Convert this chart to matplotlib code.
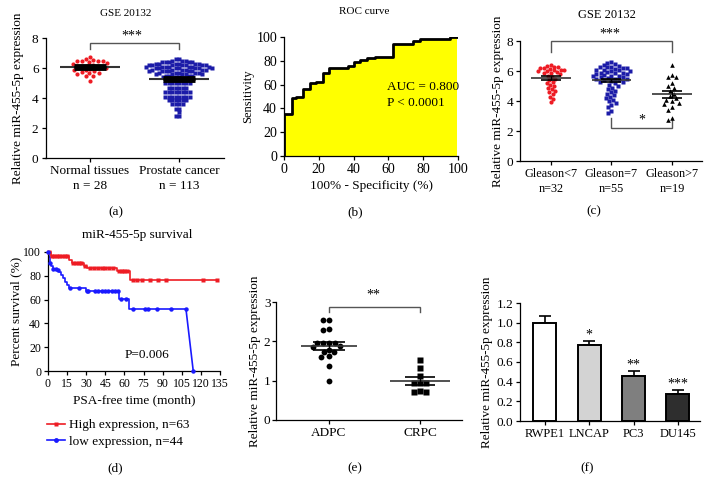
import numpy as np
import matplotlib
matplotlib.use('Agg')
import matplotlib.pyplot as plt
from matplotlib.lines import Line2D

# ---------------- DATA ----------------
# (a) GSE 20132 normal vs prostate cancer
normal_vals = [6.75, 6.6, 6.55, 6.5, 6.5, 6.5, 6.45, 6.4, 6.35, 6.3, 6.2, 6.15, 6.1, 6.1,
               6.05, 6.0, 6.0, 5.95, 5.9, 5.85, 5.8, 5.75, 5.7, 5.65, 5.6, 5.5, 5.45, 5.15]
cancer_vals = ([6.6]*2 + [6.5]*3 + [6.4]*5 + [6.3]*6 + [6.2]*7 + [6.1]*7 + [6.0]*7 +
               [5.9]*6 + [5.8]*6 + [5.7]*5 + [5.6]*5 + [5.5]*4 + [5.4]*3 + [5.3]*2 +
               [5.0]*8 + [4.7]*6 + [4.4]*8 + [4.1]*8 + [3.85]*6 + [3.6]*4 + [3.3]*2 +
               [3.05] + [2.8]*2)
a_labels = ['Normal tissues\nn = 28', 'Prostate cancer\nn = 113']

# (b) ROC curve (step vertices)
roc_fpr = [0, 0, 4.4, 7, 10.7, 14.9, 18.4, 22.2, 26, 37, 40.2, 43.7, 47.9, 52.3, 62.8, 74, 78.2, 95.4, 99.5]
roc_tpr = [0, 35.5, 48.5, 49.5, 56, 61, 62.5, 70, 74, 76, 79, 80.5, 82, 83.5, 94, 97, 98.6, 100, 100]

# (c) Gleason groups
gl_lt7 = [6.4, 6.35, 6.3, 6.3, 6.2, 6.2, 6.15, 6.1, 6.1, 6.05, 6.0, 6.0, 5.95, 5.9, 5.85, 5.8,
          5.7, 5.6, 5.5, 5.4, 5.3, 5.2, 5.1, 5.0, 4.9, 4.8, 4.7, 4.6, 4.5, 4.3, 4.15, 3.95]
gl_eq7 = [6.6, 6.55, 6.45, 6.4, 6.35, 6.3, 6.3, 6.25, 6.2, 6.2, 6.15, 6.1, 6.1, 6.05, 6.0, 6.0,
          5.95, 5.9, 5.9, 5.85, 5.8, 5.8, 5.75, 5.7, 5.7, 5.65, 5.6, 5.6, 5.55, 5.5, 5.5, 5.45,
          5.4, 5.4, 5.35, 5.3, 5.3, 5.2, 5.1, 5.0, 4.9, 4.8, 4.7, 4.6, 4.5, 4.4, 4.3, 4.2, 4.1,
          4.0, 3.9, 3.75, 3.6, 3.35, 3.2]
gl_gt7 = [6.4, 5.75, 5.6, 5.6, 5.2, 5.0, 4.9, 4.7, 4.5, 4.35, 4.2, 4.1, 4.0, 3.9, 3.8, 3.6,
          3.4, 2.9, 2.75]
c_labels = ['Gleason<7\nn=32', 'Gleason=7\nn=55', 'Gleason>7\nn=19']

# (d) survival curves
high_t = [0, 2, 16.5, 18.5, 28, 31, 54, 64, 133]
high_s = [100, 96.3, 93.5, 90.8, 88, 86.3, 83.8, 76.3, 76.3]
high_cens_t = [1, 3, 5, 7, 9, 11, 13, 15, 20, 22, 24, 26, 29, 33, 36, 39, 42, 45, 48, 51,
               56, 58, 60, 62, 67, 69.6, 73.5, 80, 86.6, 92.6, 121.4, 132.4]
low_t = [0, 0.5, 1.5, 2.5, 4, 7, 9, 10.5, 12, 13.5, 15, 16.5, 29.5, 56, 63.5, 108.3]
low_s = [100, 96, 91, 88, 86, 84.5, 83, 80.5, 78, 75, 72.5, 70, 67.5, 60.5, 52, 52]
low_end = (114, 0)
low_cens_t = [0.3, 1.6, 4.2, 6.3, 8.1, 17.3, 24.6, 30.3, 31.6, 36.9, 39.5, 42.1, 44.7,
              47.4, 50, 52.6, 55.2, 57, 61.2, 67, 76.2, 78.8, 85.3, 96.3, 108.3]

# (e) ADPC vs CRPC
adpc_vals = [2.53, 2.53, 2.32, 2.28, 1.97, 1.95, 1.95, 1.95, 1.88, 1.85, 1.78, 1.73, 1.72,
             1.62, 1.60, 1.37, 1.0]
crpc_vals = [1.53, 1.33, 1.13, 0.95, 0.93, 0.95, 0.73, 0.70, 0.71]
e_labels = ['ADPC', 'CRPC']

# (f) cell lines
cell_lines = ['RWPE1', 'LNCAP', 'PC3', 'DU145']
cell_vals = [1.0, 0.77, 0.46, 0.275]
cell_err = [0.065, 0.04, 0.045, 0.04]
cell_stars = ['', '*', '**', '***']

# ---------------- STYLE ----------------
W, H = 710, 493
plt.rcParams['font.family'] = ['Liberation Serif', 'DejaVu Serif']
plt.rcParams['font.size'] = 9.5
plt.rcParams['axes.linewidth'] = 0.9
fig = plt.figure(figsize=(W / 100, H / 100), dpi=100)

RED = '#ee1c24'
BLUE_A = '#1c1ca8'
BLUE_D = '#1a1aff'
GRAY = '#555555'


def add_ax(l, t, r, b):
    ax = fig.add_axes([l / W, 1 - b / H, (r - l) / W, (b - t) / H])
    ax.spines[['top', 'right']].set_visible(False)
    ax.tick_params(direction='out', length=3, width=0.9, labelsize=9.5, pad=2)
    ax.patch.set_alpha(0)
    return ax


def px_frac(ax, xpx, ypx):
    bb = ax.get_position()
    return ((xpx / W - bb.x0) / bb.width, ((1 - ypx / H) - bb.y0) / bb.height)


def set_ylabel_px(ax, text, xpx, size=9.5):
    # xpx is the visual centre of the rotated label
    ax.set_ylabel(text, fontsize=size)
    fx, _ = px_frac(ax, xpx + 7, 0)
    ax.yaxis.set_label_coords(fx, 0.5)


def ftext(xpx, ypx, s, size=9.5, **kw):
    fig.text(xpx / W, 1 - ypx / H, s, fontsize=size, ha='center', va='center', **kw)


def swarm(ax, values, center, d_px):
    trans = ax.transData
    vals = np.asarray(values, float)
    pts = trans.transform(np.column_stack([np.full(len(vals), center), vals]))
    cx = pts[0, 0]
    ys = pts[:, 1]
    order = np.argsort(-vals, kind='stable')
    placed = []
    xs = np.zeros(len(vals))
    for i in order:
        y = ys[i]
        cands = [0.0]
        forb = []
        for (px, py) in placed:
            dy = abs(py - y)
            if dy < d_px:
                dx = np.sqrt(d_px ** 2 - dy ** 2)
                forb.append((px - dx, px + dx))
                cands += [px - dx, px + dx]
        cands.sort(key=abs)
        for c in cands:
            if all(not (a + 1e-6 < c < b - 1e-6) for a, b in forb):
                xs[i] = c
                break
        placed.append((xs[i], y))
    out = trans.inverted().transform(np.column_stack([cx + xs, ys]))
    return out[:, 0], vals


def mean_sem(ax, vals, x, half_line, cap_px, capthick=1.2, lw=1.2, lcolor='#333333'):
    m = np.mean(vals)
    s = np.std(vals, ddof=1) / np.sqrt(len(vals))
    ax.hlines(m, x - half_line, x + half_line, color=lcolor, lw=lw, zorder=4)
    ax.errorbar(x, m, yerr=s, fmt='none', ecolor='black', elinewidth=1.0,
                capsize=cap_px * 0.72, capthick=capthick, zorder=5)


def bracket(ax, x0, x1, y, y0, y1=None, color=GRAY):
    if y1 is None:
        y1 = y0
    ax.plot([x0, x0, x1, x1], [y0, y, y, y1], color=color, lw=1.0, clip_on=False,
            solid_joinstyle='miter')


# ---------------- (a) ----------------
axa = add_ax(45.5, 38, 223.5, 158)
axa.set_xlim(-0.5, 1.5)
axa.set_ylim(0, 8)
axa.set_yticks([0, 2, 4, 6, 8])
axa.set_xticks([0, 1])
axa.set_xticklabels(a_labels, linespacing=1.35)
xs, v = swarm(axa, normal_vals, 0, 4.6)
axa.plot(xs, v, 'o', ms=3.0, color=RED, mec='none', zorder=3)
xs, v = swarm(axa, cancer_vals, 1, 3.5)
axa.plot(xs, v, 's', ms=3.3, color=BLUE_A, mec='none', zorder=3)
mean_sem(axa, normal_vals, 0, 0.34, 16, capthick=3.5, lw=1.5)
mean_sem(axa, cancer_vals, 1, 0.34, 16, capthick=3.5, lw=1.5)
bracket(axa, 0, 1, 7.65, 7.25)
axa.text(0.47, 8.15, '***', ha='center', va='center', fontsize=10)
set_ylabel_px(axa, 'Relative miR-455-5p expression', 17)
ftext(126, 13, 'GSE 20132', size=8)
ftext(116, 212, '(a)')

# ---------------- (b) ----------------
axb = add_ax(284, 37, 458, 156)
axb.set_xlim(0, 100)
axb.set_ylim(0, 100)
axb.fill_between(roc_fpr, roc_tpr, step='post', color='#ffff00', lw=0, zorder=1)
axb.step(roc_fpr, roc_tpr, where='post', color='black', lw=2.0, zorder=2)
axb.set_xticks(range(0, 101, 20))
axb.set_yticks(range(0, 101, 20))
axb.tick_params(labelsize=10)
axb.text(59, 58, 'AUC = 0.800', fontsize=9.5, ha='left', va='center')
axb.text(59, 44.5, 'P < 0.0001', fontsize=9.5, ha='left', va='center')
axb.set_xlabel('100% - Specificity (%)', fontsize=9.5, labelpad=3)
set_ylabel_px(axb, 'Sensitivity', 247, size=9)
ftext(364, 12, 'ROC curve', size=8)
ftext(355, 212, '(b)')

# ---------------- (c) ----------------
axc = add_ax(520, 41, 702, 161)
axc.set_xlim(-0.512, 2.496)
axc.set_ylim(0, 8)
axc.set_yticks([0, 2, 4, 6, 8])
axc.set_xticks([0, 1, 2])
axc.set_xticklabels(c_labels, linespacing=1.3, fontsize=8.8)
xs, v = swarm(axc, gl_lt7, 0, 3.8)
axc.plot(xs, v, 'o', ms=3.0, color=RED, mec='none', zorder=3)
xs, v = swarm(axc, gl_eq7, 1, 4.3)
axc.plot(xs, v, 's', ms=3.3, color=BLUE_A, mec='none', zorder=3)
xs, v = swarm(axc, gl_gt7, 2, 5.0)
axc.plot(xs, v, '^', ms=3.3, color='black', mec='none', zorder=3)
mean_sem(axc, gl_lt7, 0, 0.33, 10)
mean_sem(axc, gl_eq7, 1, 0.33, 10)
mean_sem(axc, gl_gt7, 2, 0.33, 10)
bracket(axc, 0, 2, 8.0, 7.3)
axc.text(0.98, 8.45, '***', ha='center', va='center', fontsize=10, clip_on=False)
bracket(axc, 1, 2, 2.18, 2.85, 2.85)
axc.text(1.5, 2.75, '*', ha='center', va='center', fontsize=10)
set_ylabel_px(axc, 'Relative miR-455-5p expression', 497)
ftext(607, 15, 'GSE 20132', size=9)
ftext(594, 211, '(c)')

# ---------------- (d) ----------------
axd = add_ax(48, 252, 220, 371)
axd.set_xlim(0, 135)
axd.set_ylim(0, 100)
axd.set_xticks(range(0, 136, 15))
axd.set_yticks(range(0, 101, 20))
axd.tick_params(labelsize=8.5)
axd.step(high_t, high_s, where='post', color=RED, lw=1.2, zorder=2, clip_on=False)
hc = [high_s[np.searchsorted(high_t, t, side='right') - 1] for t in high_cens_t]
axd.plot(high_cens_t, hc, 's', ms=3.2, color=RED, mec='none', zorder=3, clip_on=False)
axd.step(low_t, low_s, where='post', color=BLUE_D, lw=1.2, zorder=2, clip_on=False)
axd.plot([low_t[-1], low_end[0]], [low_s[-1], low_end[1]], color=BLUE_D, lw=1.2, clip_on=False)
lc = [low_s[np.searchsorted(low_t, t, side='right') - 1] for t in low_cens_t]
axd.plot(low_cens_t, lc, 'o', ms=3.2, color=BLUE_D, mec='none', zorder=3, clip_on=False)
axd.plot([low_end[0]], [low_end[1]], 'o', ms=3.2, color=BLUE_D, mec='none', zorder=3, clip_on=False)
axd.text(60.5, 13.4, 'P=0.006', fontsize=9.5, ha='left', va='center')
axd.set_xlabel('PSA-free time (month)', fontsize=9.5, labelpad=3)
set_ylabel_px(axd, 'Percent survival (%)', 15)
ftext(137, 235, 'miR-455-5p survival')
handles = [Line2D([], [], color=RED, marker='s', ms=3.5, lw=1.2, mec='none'),
           Line2D([], [], color=BLUE_D, marker='o', ms=3.5, lw=1.2, mec='none')]
fig.legend(handles, ['High expression, n=63', 'low expression, n=44'],
           loc='upper left', bbox_to_anchor=(47 / W, 1 - 419 / H), frameon=False,
           handlelength=1.4, handletextpad=0.3, labelspacing=0.35, fontsize=9.5,
           borderaxespad=0, borderpad=0)
ftext(115, 468, '(d)')

# ---------------- (e) ----------------
axe = add_ax(276, 302, 462, 420)
axe.set_xlim(-0.582, 1.462)
axe.set_ylim(0, 3)
axe.set_yticks([0, 1, 2, 3])
axe.set_xticks([0, 1])
axe.set_xticklabels(e_labels)
axe.tick_params(axis='y', pad=1)
xs, v = swarm(axe, adpc_vals, 0, 5.8)
axe.plot(xs, v, 'o', ms=4.2, color='black', mec='none', zorder=3)
xs, v = swarm(axe, crpc_vals, 1, 5.8)
axe.plot(xs, v, 's', ms=3.9, color='black', mec='none', zorder=3)
mean_sem(axe, adpc_vals, 0, 0.31, 16)
mean_sem(axe, crpc_vals, 1, 0.33, 15)
bracket(axe, 0, 1, 2.88, 2.75)
axe.text(0.49, 3.18, '**', ha='center', va='center', fontsize=10, clip_on=False)
set_ylabel_px(axe, 'Relative miR-455-5p expression', 254)
ftext(355, 468, '(e)')

# ---------------- (f) ----------------
axf = add_ax(520, 303, 700, 421)
axf.set_xlim(-0.564, 3.5)
axf.set_ylim(0, 1.2)
axf.set_yticks(np.arange(0, 1.21, 0.2))
axf.set_yticklabels([f'{t:.1f}' for t in np.arange(0, 1.21, 0.2)])
xpos = np.arange(len(cell_lines))
axf.bar(xpos, cell_vals, width=0.52, color=['white', '#d3d3d3', '#7f7f7f', '#2e2e2e'],
        edgecolor='black', lw=1.4, zorder=2)
axf.errorbar(xpos, cell_vals, yerr=[np.zeros(len(cell_err)), cell_err], fmt='none',
             ecolor='black', elinewidth=1.2, capsize=4, capthick=1.2, zorder=1)
for x, v_, e, s in zip(xpos, cell_vals, cell_err, cell_stars):
    if s:
        axf.text(x, v_ + e + 0.06, s, ha='center', va='center', fontsize=10)
axf.set_xticks(xpos)
axf.set_xticklabels(cell_lines, fontsize=9)
set_ylabel_px(axf, 'Relative miR-455-5p expression', 486)
ftext(587, 468, '(f)')

fig.savefig('out.png', dpi=100)
